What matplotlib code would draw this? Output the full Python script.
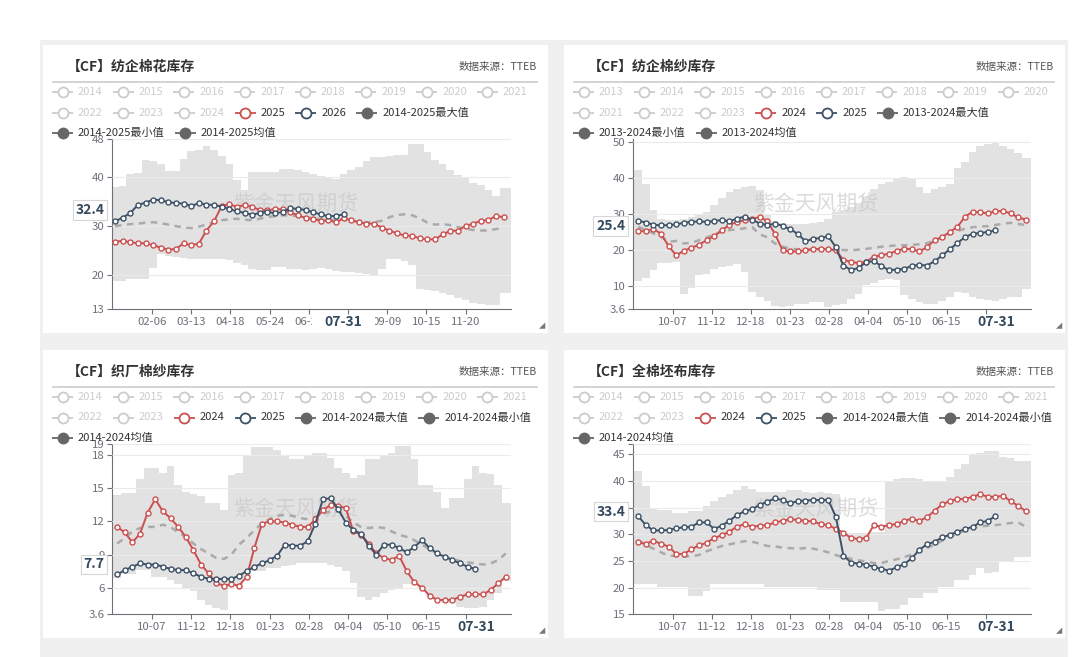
"""Four seasonal cotton-inventory panels (weekly, TTEB), echarts-style dashboard."""

import matplotlib

matplotlib.use("Agg")
import matplotlib.pyplot as plt  # noqa: E402
import numpy as np  # noqa: E402
import pandas as pd  # noqa: E402
from matplotlib.patches import Rectangle  # noqa: E402
from matplotlib.transforms import blended_transform_factory  # noqa: E402

plt.rcParams["font.family"] = ["Noto Sans CJK SC", "DejaVu Sans"]

# ---- data, weekly values ----
# panel 1: 纺企棉花库存 (calendar year axis)
p1_2025 = [26.8, 27.0, 26.7, 26.5, 26.5, 26.1, 25.6, 25.2, 25.3, 26.5, 26.1, 26.4, 29.1,
           31.0, 34.1, 34.5, 33.9, 34.3, 33.9, 33.3, 33.2, 33.5, 33.4, 32.8, 32.2, 31.7,
           31.4, 31.1, 31.2, 30.8, 31.6, 31.2, 30.8, 30.5, 30.5, 29.7, 29.1, 28.5, 28.1,
           28.0, 27.5, 27.3, 27.3, 28.3, 29.0, 29.1, 30.0, 30.5, 31.1, 31.2, 32.1, 31.8]
p1_2026 = [31.0, 31.7, 32.7, 34.3, 34.8, 35.4, 35.3, 34.9, 34.7, 34.6, 34.1, 34.7, 34.4,
           34.3, 34.0, 33.5, 33.0, 32.7, 32.3, 32.7, 32.9, 32.6, 32.9, 33.7, 33.5, 33.3,
           32.8, 32.4, 32.0, 32.1, 32.4]
p1_max = [38.0, 38.2, 40.7, 40.8, 43.6, 43.4, 42.6, 41.2, 41.2, 43.7, 45.4, 45.5, 46.3,
          45.6, 44.4, 42.6, 39.5, 37.3, 41.0, 41.0, 41.0, 41.0, 41.7, 41.7, 41.5, 41.0,
          40.7, 40.3, 40.0, 39.7, 40.7, 41.5, 42.0, 43.4, 44.1, 44.2, 44.4, 44.6, 44.6,
          46.7, 46.7, 45.1, 43.5, 42.7, 41.5, 40.5, 40.0, 38.8, 38.4, 37.3, 36.2, 37.7]
p1_min = [18.7, 18.7, 19.1, 19.1, 19.1, 21.4, 24.2, 23.8, 23.7, 23.5, 23.3, 23.2, 23.2,
          23.3, 23.2, 23.0, 22.5, 22.0, 21.3, 21.1, 21.0, 21.6, 21.6, 21.3, 21.3, 21.0,
          21.2, 21.5, 21.2, 20.9, 20.6, 20.6, 20.5, 20.3, 20.1, 21.2, 23.3, 23.2, 22.8,
          22.0, 17.2, 16.9, 16.7, 16.3, 15.9, 15.3, 14.8, 14.3, 14.0, 13.9, 13.8, 16.4]
p1_mean = [30.0, 30.2, 30.4, 30.5, 30.7, 30.8, 30.6, 30.3, 30.0, 29.7, 29.6, 29.9, 30.3,
           30.8, 31.2, 31.4, 31.5, 31.3, 31.2, 31.5, 31.9, 32.0, 32.2, 32.2, 32.0, 31.8,
           31.6, 31.4, 31.2, 31.4, 31.3, 31.1, 30.9, 30.8, 30.8, 31.1, 31.8, 32.3, 32.4,
           32.2, 31.6, 30.7, 30.3, 30.4, 30.2, 29.8, 29.5, 29.2, 29.1, 29.1, 29.4, 29.7]

# panel 2: 纺企棉纱库存 (Sep-Aug axis)
p2_2024 = [25.2, 25.2, 25.8, 24.5, 21.1, 18.5, 19.8, 20.6, 21.5, 22.7, 23.9, 25.5, 26.9,
           27.8, 28.2, 28.5, 29.2, 28.0, 24.4, 19.9, 19.6, 19.6, 19.9, 20.2, 20.4, 20.2,
           19.9, 17.3, 16.7, 16.4, 16.7, 18.2, 18.5, 19.0, 19.7, 20.4, 20.2, 19.6, 20.8,
           22.7, 23.6, 25.0, 26.4, 29.2, 30.6, 30.4, 30.1, 30.7, 30.8, 30.1, 29.0, 28.4]
p2_2025 = [28.1, 27.6, 27.0, 26.8, 26.9, 27.1, 27.5, 27.8, 27.9, 27.8, 28.0, 28.3, 27.9,
           28.7, 29.2, 28.4, 27.3, 26.9, 27.3, 26.7, 25.7, 24.5, 22.4, 23.1, 23.3, 23.8,
           20.8, 15.7, 14.5, 15.0, 16.7, 16.9, 15.6, 14.4, 14.6, 14.8, 15.6, 15.9, 15.7,
           16.9, 18.5, 20.2, 21.9, 23.6, 24.5, 24.7, 25.0, 25.4]
p2_max = [42.1, 38.2, 31.0, 28.5, 28.3, 28.3, 28.7, 29.2, 29.6, 30.4, 32.4, 34.5, 36.1,
          37.0, 37.5, 37.8, 36.6, 29.6, 28.0, 27.5, 27.1, 27.1, 27.3, 27.5, 27.8, 28.5,
          30.6, 31.0, 32.0, 33.0, 34.7, 37.0, 38.2, 38.9, 39.5, 40.3, 39.8, 37.5, 35.9,
          37.0, 37.5, 38.2, 42.6, 44.4, 47.2, 48.8, 49.3, 49.5, 48.8, 47.9, 46.8, 45.4]
p2_min = [11.4, 12.3, 14.4, 16.4, 16.4, 16.7, 7.9, 9.5, 13.0, 13.4, 14.8, 15.2, 15.6,
          16.2, 14.0, 8.3, 7.0, 6.0, 4.6, 4.2, 4.4, 5.1, 5.1, 5.6, 5.6, 4.2,
          4.8, 5.1, 6.5, 7.9, 10.2, 10.8, 11.6, 12.0, 11.8, 7.5, 6.5, 5.5, 5.1,
          5.1, 6.0, 7.0, 8.3, 8.0, 6.9, 6.5, 6.2, 6.0, 6.5, 6.9, 7.0, 9.3]
p2_mean = [26.4, 25.6, 24.6, 23.6, 22.3, 22.5, 21.8, 22.0, 22.7, 23.4, 24.3, 25.0, 25.5,
           25.7, 26.0, 26.3, 24.3, 23.5, 21.8, 20.9, 20.4, 20.2, 20.2, 20.2, 20.1, 20.1,
           20.1, 20.0, 19.9, 20.1, 20.3, 20.6, 20.9, 21.1, 21.3, 21.3, 21.4, 21.6, 21.9,
           22.6, 23.5, 24.4, 25.2, 25.9, 26.3, 26.5, 26.6, 26.9, 27.3, 27.5, 27.2, 26.9]

# panel 3: 织厂棉纱库存
p3_2024 = [11.5, 11.0, 10.1, 10.9, 12.8, 14.0, 12.9, 12.3, 11.5, 10.6, 9.4, 8.1, 7.3,
           6.4, 6.2, 6.3, 6.2, 7.0, 9.6, 11.8, 12.0, 12.0, 11.9, 11.7, 11.5, 11.5,
           12.2, 13.0, 13.5, 13.4, 13.2, 11.1, 10.8, 10.0, 9.1, 8.7, 8.5, 8.9, 7.5,
           6.5, 6.0, 5.3, 4.9, 4.9, 4.9, 5.2, 5.4, 5.4, 5.4, 5.8, 6.4, 7.0]
p3_2025 = [7.2, 7.6, 7.9, 8.2, 8.1, 8.1, 7.9, 7.7, 7.6, 7.6, 7.3, 7.0, 6.8,
           6.8, 6.8, 6.8, 7.1, 7.5, 7.9, 8.2, 8.5, 8.9, 9.9, 9.8, 9.8, 10.2,
           11.8, 14.0, 14.1, 13.1, 11.9, 11.2, 10.9, 9.8, 9.0, 9.9, 9.9, 9.6, 9.2,
           9.7, 10.3, 9.6, 9.1, 8.8, 8.5, 8.2, 7.9, 7.7]
p3_max = [14.4, 14.6, 14.6, 15.8, 16.8, 16.8, 16.4, 17.0, 15.3, 14.7, 14.5, 14.3, 13.7,
          13.7, 13.0, 16.2, 16.4, 18.0, 18.7, 18.7, 18.7, 18.5, 17.9, 17.6, 17.6, 18.0,
          18.2, 18.2, 17.7, 16.8, 16.4, 15.9, 16.2, 17.6, 17.6, 17.9, 18.2, 18.8, 18.8,
          17.6, 15.3, 15.3, 14.7, 13.2, 14.1, 14.1, 15.8, 17.0, 16.4, 16.3, 15.3, 13.7]
p3_min = [6.9, 7.2, 7.2, 7.6, 7.6, 7.0, 7.0, 6.7, 6.3, 6.0, 5.7, 4.9, 4.4,
          4.2, 4.0, 6.2, 6.1, 6.9, 7.5, 7.5, 7.8, 7.8, 8.0, 8.1, 8.2, 8.2,
          8.2, 8.2, 8.1, 7.9, 7.5, 6.4, 5.2, 4.9, 5.2, 5.5, 5.8, 6.0, 6.3,
          6.3, 5.9, 5.2, 4.9, 4.6, 4.6, 4.3, 4.2, 4.2, 4.3, 4.9, 5.5, 6.6]
p3_mean = [10.0, 10.5, 11.1, 11.4, 11.5, 11.5, 11.7, 11.5, 11.0, 10.6, 10.0, 9.5, 9.1,
           8.7, 8.6, 9.0, 9.9, 10.5, 11.2, 11.8, 12.2, 12.5, 12.6, 12.5, 12.3, 12.2,
           12.4, 12.7, 12.9, 12.9, 12.5, 11.9, 11.5, 11.4, 11.5, 11.4, 11.1, 10.8, 10.6,
           10.3, 9.9, 9.5, 9.1, 8.8, 8.6, 8.4, 8.3, 8.2, 8.1, 8.2, 8.5, 9.1]

# panel 4: 全棉坯布库存
p4_2024 = [28.5, 28.2, 28.8, 28.2, 27.7, 26.3, 26.3, 27.2, 27.9, 28.4, 29.3, 29.8, 30.5,
           31.4, 31.9, 31.4, 31.6, 31.7, 32.2, 32.5, 32.8, 32.7, 32.5, 32.4, 31.9, 31.7,
           31.0, 30.3, 29.3, 29.1, 29.3, 31.7, 31.4, 31.7, 31.9, 32.5, 32.9, 32.5, 33.2,
           34.4, 35.6, 36.2, 36.6, 36.6, 37.0, 37.5, 37.0, 37.0, 37.2, 36.2, 35.3, 34.3]
p4_2025 = [33.4, 31.7, 30.7, 30.7, 30.8, 31.1, 31.3, 31.4, 32.2, 32.2, 31.0, 31.6, 32.5,
           33.6, 34.3, 34.7, 35.5, 36.1, 36.7, 36.4, 35.8, 36.2, 36.3, 36.4, 36.4, 36.4,
           33.3, 26.0, 24.7, 24.5, 24.3, 23.9, 23.5, 23.2, 23.8, 24.4, 25.5, 27.1, 28.1,
           28.6, 29.4, 29.9, 30.5, 30.9, 31.4, 32.2, 32.5, 33.4]
p4_max = [41.8, 39.1, 34.7, 34.5, 34.5, 33.9, 33.9, 34.3, 34.3, 35.2, 36.2, 37.0, 37.6,
          38.3, 39.0, 38.5, 38.0, 38.0, 38.0, 38.0, 38.2, 38.2, 38.0, 37.8, 38.0, 37.8,
          37.5, 30.2, 30.2, 30.2, 30.3, 30.5, 30.5, 39.8, 40.4, 40.6, 40.6, 40.4, 40.0,
          39.7, 39.9, 40.8, 42.3, 43.2, 44.8, 45.3, 45.5, 45.5, 44.5, 44.2, 43.7, 43.7]
p4_min = [20.7, 20.7, 20.7, 20.2, 20.2, 20.1, 20.1, 18.4, 18.4, 19.4, 20.6, 20.6, 20.6,
          20.7, 20.7, 20.7, 20.7, 20.2, 20.2, 20.2, 20.2, 20.2, 20.2, 20.2, 19.6, 19.6,
          19.6, 17.3, 17.3, 17.3, 17.3, 17.3, 15.6, 15.9, 15.9, 16.8, 18.0, 18.0, 19.0,
          19.0, 20.2, 20.2, 21.5, 21.5, 22.4, 23.7, 22.7, 23.0, 24.9, 24.9, 25.8, 25.8]
p4_mean = [28.8, 28.0, 27.3, 26.6, 26.0, 25.9, 25.8, 25.9, 26.1, 26.8, 27.3, 27.8, 28.1,
           28.4, 28.7, 28.6, 28.2, 27.8, 27.7, 27.5, 27.4, 27.3, 27.4, 27.3, 27.0, 26.6,
           26.1, 25.7, 25.4, 25.1, 24.9, 24.6, 24.6, 25.0, 25.3, 25.7, 26.2, 26.8, 27.4,
           28.1, 28.8, 29.5, 30.1, 30.7, 31.1, 31.5, 31.6, 31.7, 31.9, 32.1, 32.2, 31.4]

titles = ["【CF】纺企棉花库存", "【CF】纺企棉纱库存", "【CF】织厂棉纱库存", "【CF】全棉坯布库存"]
source_text = "数据来源：TTEB"
watermark = "紫金天风期货"
# (axis start, first weekly point, pointer date) per panel; leap year -> 366 categories
axis_starts = ["2024-01-01", "2023-09-01", "2023-09-01", "2023-09-01"]
first_points = ["2024-01-03", "2023-09-05", "2023-09-05", "2023-09-05"]
pointer_date = "2024-07-31"
year_spans = [(2014, 2025), (2013, 2024), (2014, 2024), (2014, 2024)]
y_limits = [(13, 47.8), (3.6, 50.7), (3.6, 19.0), (15, 46.9)]
y_ticks = [[13, 20, 30, 40, 47.8], [3.6, 10, 20, 30, 40, 50],
           [3.6, 6, 9, 12, 15, 18, 19], [15, 20, 25, 30, 35, 40, 45, 46.9]]
y_tick_labels = [["13", "20", "30", "40", "48"], ["3.6", "10", "20", "30", "40", "50"],
                 ["3.6", "6", "9", "12", "15", "18", "19"],
                 ["15", "20", "25", "30", "", "40", "45", ""]]
series = [
    (p1_2025, p1_2026, p1_max, p1_min, p1_mean),
    (p2_2024, p2_2025, p2_max, p2_min, p2_mean),
    (p3_2024, p3_2025, p3_max, p3_min, p3_mean),
    (p4_2024, p4_2025, p4_max, p4_min, p4_mean),
]

W, H = 1080, 657
RED, BLUE, STAT, OFF = "#cc4f4f", "#3d5166", "#666666", "#cccccc"
BAND, MEAN_C, AXIS_C, GRID_C = "#e2e2e2", "#aaaaaa", "#6e7079", "#ebebeb"
PTR_C = "#34495e"
CARDS = [(43, 45, 548, 333), (564, 45, 1065, 333), (43, 350, 548, 638), (564, 350, 1065, 638)]
PLOTS = [(112.3, 139, 510.7, 309.3), (633.3, 139, 1030.7, 309.3),
         (112.3, 444, 510.7, 614.3), (633.3, 444, 1030.7, 614.3)]

fig = plt.figure(figsize=(W / 100, H / 100), dpi=100)
bg = fig.add_axes([0, 0, 1, 1], zorder=0)
fg = fig.add_axes([0, 0, 1, 1], zorder=10)
for a in (bg, fg):
    a.set_xlim(0, W)
    a.set_ylim(H, 0)
    a.set_autoscale_on(False)
    a.axis("off")
fg.patch.set_alpha(0)
bg.add_patch(Rectangle((40, 40), 1028, H - 40, fc="#f0f0f0", lw=0))


def day_offset(dates, start):
    return (pd.DatetimeIndex(dates) - pd.Timestamp(start)).days.to_numpy() + 0.5


def draw_legend(card, items):
    renderer = fig.canvas.get_renderer()
    left, right = card[0] + 9, card[2] - 5
    x, y = left, card[1] + 47
    for label, color in items:
        t = fg.text(0, y, label, fontsize=8.0, va="center", ha="left",
                    color=OFF if color == OFF else "#333333")
        w = t.get_window_extent(renderer).width
        if x > left and x + 26 + w > right:
            x, y = left, y + 20.5
        t.set_position((x + 26, y))
        fg.plot([x, x + 21], [y, y], color=color, lw=1.3, solid_capstyle="butt")
        fg.plot([x + 10.5], [y], marker="o", ms=7.2, mew=1.3, mec=color,
                mfc=color if color == STAT else "white")
        x += 26 + w + 10


for i, (card, box) in enumerate(zip(CARDS, PLOTS)):
    l, t, r, b = card
    cur, nxt, mx, mn, mean = series[i]
    y0, y1 = year_spans[i]

    bg.add_patch(Rectangle((l, t), r - l, b - t, fc="white", lw=0))
    bg.plot([l + 10, r - 11], [t + 37, t + 37], color="#cccccc", lw=1.2)
    fg.text(l + 24, t + 22, titles[i], fontsize=10, fontweight="bold", color="#333333",
            va="center", ha="left")
    fg.text(r - 11, t + 22, source_text, fontsize=7.6, color="#555555", va="center", ha="right")
    fg.text(r - 3, b - 3, "◢", fontsize=4.5, color="#777777", va="bottom", ha="right")

    items = [(str(yr), OFF) for yr in range(y0, y1)]
    items += [(str(y1), RED), (str(y1 + 1), BLUE)]
    items += [(f"{y0}-{y1}{s}", STAT) for s in ("最大值", "最小值", "均值")]
    draw_legend(card, items)

    ax = fig.add_axes([box[0] / W, 1 - box[3] / H, (box[2] - box[0]) / W, (box[3] - box[1]) / H],
                      zorder=5)
    ax.patch.set_alpha(0)
    start = axis_starts[i]
    weeks = pd.date_range(first_points[i], periods=len(mx), freq="7D")
    x = day_offset(weeks, start)

    xb = np.r_[0, x, 366]
    ax.fill_between(xb, np.r_[mn[0], mn, mn[-1]], np.r_[mx[0], mx, mx[-1]],
                    step="mid", color=BAND, lw=0, zorder=1)
    ax.plot(x, mean, color=MEAN_C, lw=1.8, ls=(0, (2.6, 2.2)), zorder=2.6)
    ax.text(0.46, 0.62, watermark, transform=ax.transAxes, fontsize=15, color="#c4c4c4",
            alpha=0.6, ha="center", va="center", zorder=2.55)
    for vals, color, z in ((cur, RED, 4), (nxt, BLUE, 4.1)):
        ax.plot(x[:len(vals)], vals, color=color, lw=1.4, marker="o", ms=3.6,
                mfc="white", mec=color, mew=1.0, zorder=z)

    # axes styling; labels fully under the pointer label are left blank
    px = day_offset([pointer_date], start)[0]
    tick_days = 36 * np.arange(1, 10)
    tick_dates = pd.Timestamp(start) + pd.to_timedelta(tick_days, unit="D")
    xlabels = ["" if abs(dd + 0.5 - px) < 20 else d.strftime("%m-%d")
               for dd, d in zip(tick_days, tick_dates)]
    ax.set_xticks(tick_days + 0.5, xlabels)
    ax.set_yticks(y_ticks[i], y_tick_labels[i])
    ax.set_xlim(0, 366)
    ax.set_ylim(*y_limits[i])
    for side in ("top", "right"):
        ax.spines[side].set_visible(False)
    for side in ("left", "bottom"):
        ax.spines[side].set_color(AXIS_C)
        ax.spines[side].set_linewidth(0.8)
    ax.tick_params(colors=AXIS_C, labelcolor=AXIS_C, labelsize=8.2, length=3.6,
                   width=0.8, pad=2)
    ax.yaxis.grid(True, color=GRID_C, lw=0.8)
    ax.set_axisbelow(False)

    # axis-pointer labels
    last = nxt[-1]
    ax.annotate(f"{last:.1f}", xy=(0, last), xycoords=("axes fraction", "data"),
                xytext=(-8, 4.5), textcoords="offset pixels", ha="right", va="center",
                fontsize=10, fontweight="bold", color=PTR_C, annotation_clip=False,
                bbox=dict(boxstyle="square,pad=0.2", fc="white", ec="#d6d6d6", lw=0.8),
                zorder=10)
    trans = blended_transform_factory(ax.transData, ax.transAxes)
    ax.add_patch(Rectangle((px - 29, -0.14), 58, 0.095, transform=trans, fc="white",
                           ec="none", clip_on=False, zorder=9))
    ax.annotate(pd.Timestamp(pointer_date).strftime("%m-%d"), xy=(px, 0), xycoords=trans,
                xytext=(0, -12.5), textcoords="offset pixels", ha="center", va="center",
                fontsize=10, fontweight="bold", color=PTR_C, annotation_clip=False, zorder=10)
    ax.set_xlim(0, 366)

fig.savefig("out.png", dpi=100)
